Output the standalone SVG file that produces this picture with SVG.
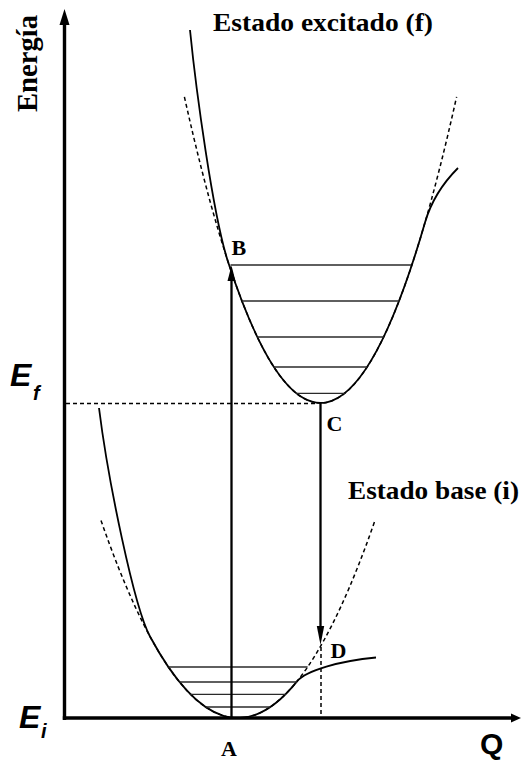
<svg xmlns="http://www.w3.org/2000/svg" width="521" height="762" viewBox="0 0 521 762">
  <style>
    .serif { font-family: "Liberation Serif", "Times New Roman", serif; font-weight: bold; fill: #000; }
    .sans { font-family: "Liberation Sans", Arial, sans-serif; font-weight: bold; fill: #000; }
    .curve { fill: none; stroke: #000; stroke-width: 1.8; }
    .dash { fill: none; stroke: #000; stroke-width: 1.5; stroke-dasharray: 4 3; }
    .level { stroke: #2a2a2a; stroke-width: 1.3; }
    .axis { stroke: #000; stroke-width: 3.4; }
    .arrow { stroke: #000; stroke-width: 2.3; }
  </style>
  <rect x="0" y="0" width="521" height="762" fill="#fff"/>

  <g id="axes">
    <line class="axis" x1="64.5" y1="720" x2="64.5" y2="22"/>
    <polygon points="64.5,9 59.5,25 69.5,25" fill="#000"/>
    <line class="axis" x1="62.8" y1="718" x2="512" y2="718"/>
    <polygon points="521,718 511,713.5 511,722.5" fill="#000"/>
    <text class="serif" font-size="29" textLength="97" lengthAdjust="spacingAndGlyphs" transform="translate(36.5,112) rotate(-90)">Energía</text>
    <text class="sans" font-size="30" x="480" y="754">Q</text>
  </g>

  <g id="excited-state">
    <path class="dash" d="M184.4,96.8 Q320.5,709.2 456.6,96.8"/>
    <path class="curve" d="M190,30 C196,90 213.1,216.2 228.1,262 Q326.55,562.3 425,222.5 C433,194.9 448,178 458,168"/>
    <line class="level" x1="230.5" y1="265" x2="411" y2="265"/>
    <line class="level" x1="242" y1="301" x2="399.5" y2="301"/>
    <line class="level" x1="257.3" y1="337" x2="383.7" y2="337"/>
    <line class="level" x1="273.8" y1="367" x2="367.2" y2="367"/>
    <line class="level" x1="296.3" y1="393.3" x2="344.7" y2="393.3"/>
    <text class="serif" font-size="25" x="213" y="31" textLength="220" lengthAdjust="spacingAndGlyphs">Estado excitado (f)</text>
  </g>

  <g id="ground-state">
    <path class="dash" d="M101,520.4 Q238,915.6 375,520.4"/>
    <path class="curve" d="M99,408 C108,480 134,606.9 150,636.5 Q223.5,772.7 297,681.4 C306,670.2 340,661 376,657.5"/>
    <line class="level" x1="168.4" y1="667" x2="307.6" y2="667"/>
    <line class="level" x1="179.5" y1="682" x2="297" y2="682"/>
    <line class="level" x1="190.3" y1="694.3" x2="285.7" y2="694.3"/>
    <line class="level" x1="205.7" y1="707" x2="270.3" y2="707"/>
    <text class="serif" font-size="25" x="348" y="499" textLength="171" lengthAdjust="spacingAndGlyphs">Estado base (i)</text>
  </g>

  <g id="energy-labels">
    <g id="Ef">
      <text class="sans" font-size="32" font-style="italic" x="10" y="386">E</text>
      <text class="sans" font-size="20" font-style="italic" x="33" y="400">f</text>
    </g>
    <g id="Ei">
      <text class="sans" font-size="32" font-style="italic" x="19" y="728">E</text>
      <text class="sans" font-size="20" font-style="italic" x="41" y="738">i</text>
    </g>
  </g>

  <g id="point-A"><text class="serif" font-size="22" x="221" y="756">A</text></g>
  <g id="point-B"><text class="serif" font-size="22" x="231.5" y="255">B</text></g>
  <g id="point-C"><text class="serif" font-size="22" x="326.5" y="430.5">C</text></g>
  <g id="point-D"><text class="serif" font-size="22" x="330.5" y="657.5">D</text></g>

  <g id="connectors">
    <line class="dash" x1="66" y1="403.5" x2="318" y2="403.5"/>
    <line class="dash" x1="321" y1="647" x2="321" y2="717" stroke-dasharray="3 3"/>
    <line class="arrow" x1="231.5" y1="718" x2="231.5" y2="278"/>
    <polygon points="231.5,265.5 227.5,281 235.5,281" fill="#000"/>
    <line class="arrow" x1="320.5" y1="403" x2="320.5" y2="628"/>
    <polygon points="320.5,645 316.8,626 324.2,626" fill="#000"/>
  </g>
</svg>
